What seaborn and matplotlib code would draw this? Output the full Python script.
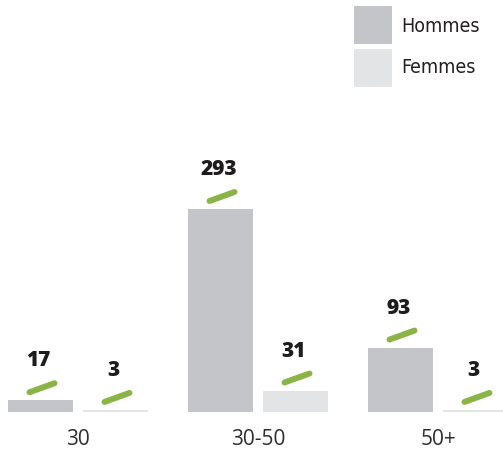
import matplotlib
matplotlib.use("Agg")
import matplotlib.pyplot as plt
from matplotlib.patches import Rectangle
from matplotlib import font_manager
import seaborn as sns
import pandas as pd

categories = ["30", "30-50", "50+"]
hommes = [17, 293, 93]
femmes = [3, 31, 3]
series = ["Hommes", "Femmes"]
colors = {"Hommes": "#c4c5c8", "Femmes": "#e3e4e6"}
green = "#8bb446"

df = pd.DataFrame({
    "age": categories * 2,
    "sexe": [series[0]] * len(hommes) + [series[1]] * len(femmes),
    "n": hommes + femmes,
})

names = {f.name for f in font_manager.fontManager.ttflist}
narrow = [n for n in ["Liberation Sans Narrow", "DejaVu Sans"] if n in names]

W, H = 503, 453
fig = plt.figure(figsize=(W / 100, H / 100), dpi=100)
base_px = 41
ax = fig.add_axes([0, base_px / H, 1, (H - base_px) / H])
sns.barplot(data=df, x="age", y="n", hue="sexe", hue_order=series,
            palette=colors, width=0.833, gap=0.133, saturation=1,
            legend=False, ax=ax, errorbar=None)

px_x = 1 / 180.0
px_y = 293 / 203.0
ax.set_xlim(-78 * px_x, (W - 78) * px_x)
ax.set_ylim(0, (H - base_px) * px_y)
for s in ax.spines.values():
    s.set_visible(False)
ax.set_yticks([])
ax.set_xlabel("")
ax.set_ylabel("")
ax.tick_params(axis="x", length=0, pad=12, labelsize=15, labelcolor="#2e2e2e")
for t in ax.get_xticklabels():
    t.set_fontfamily("Open Sans")

for cont, vals in zip(ax.containers, [hommes, femmes]):
    for bar, v in zip(cont, vals):
        cx = bar.get_x() + bar.get_width() / 2
        top = bar.get_height()
        ax.plot([cx - 11 * px_x, cx + 14 * px_x],
                [top + 8 * px_y, top + 17 * px_y],
                color=green, lw=4.3, solid_capstyle="round", clip_on=False)
        ax.text(cx - 2 * px_x, top + 34 * px_y, f"{v}", ha="center",
                va="baseline", fontsize=15, fontweight=800,
                color="#1e1c1d", family="Open Sans", clip_on=False)

# legend
for i, name in enumerate(series):
    y0 = 6 + i * 43
    fig.patches.append(Rectangle((354 / W, 1 - (y0 + 37.5) / H), 37.5 / W, 37.5 / H,
                                 transform=fig.transFigure,
                                 facecolor=colors[name], edgecolor="none"))
    fig.text(401.5 / W, 1 - (32 + i * 41) / H, name, ha="left", va="baseline",
             fontsize=14, family=narrow, fontstretch="condensed", color="#231f20")

fig.savefig("out.png", dpi=100)
